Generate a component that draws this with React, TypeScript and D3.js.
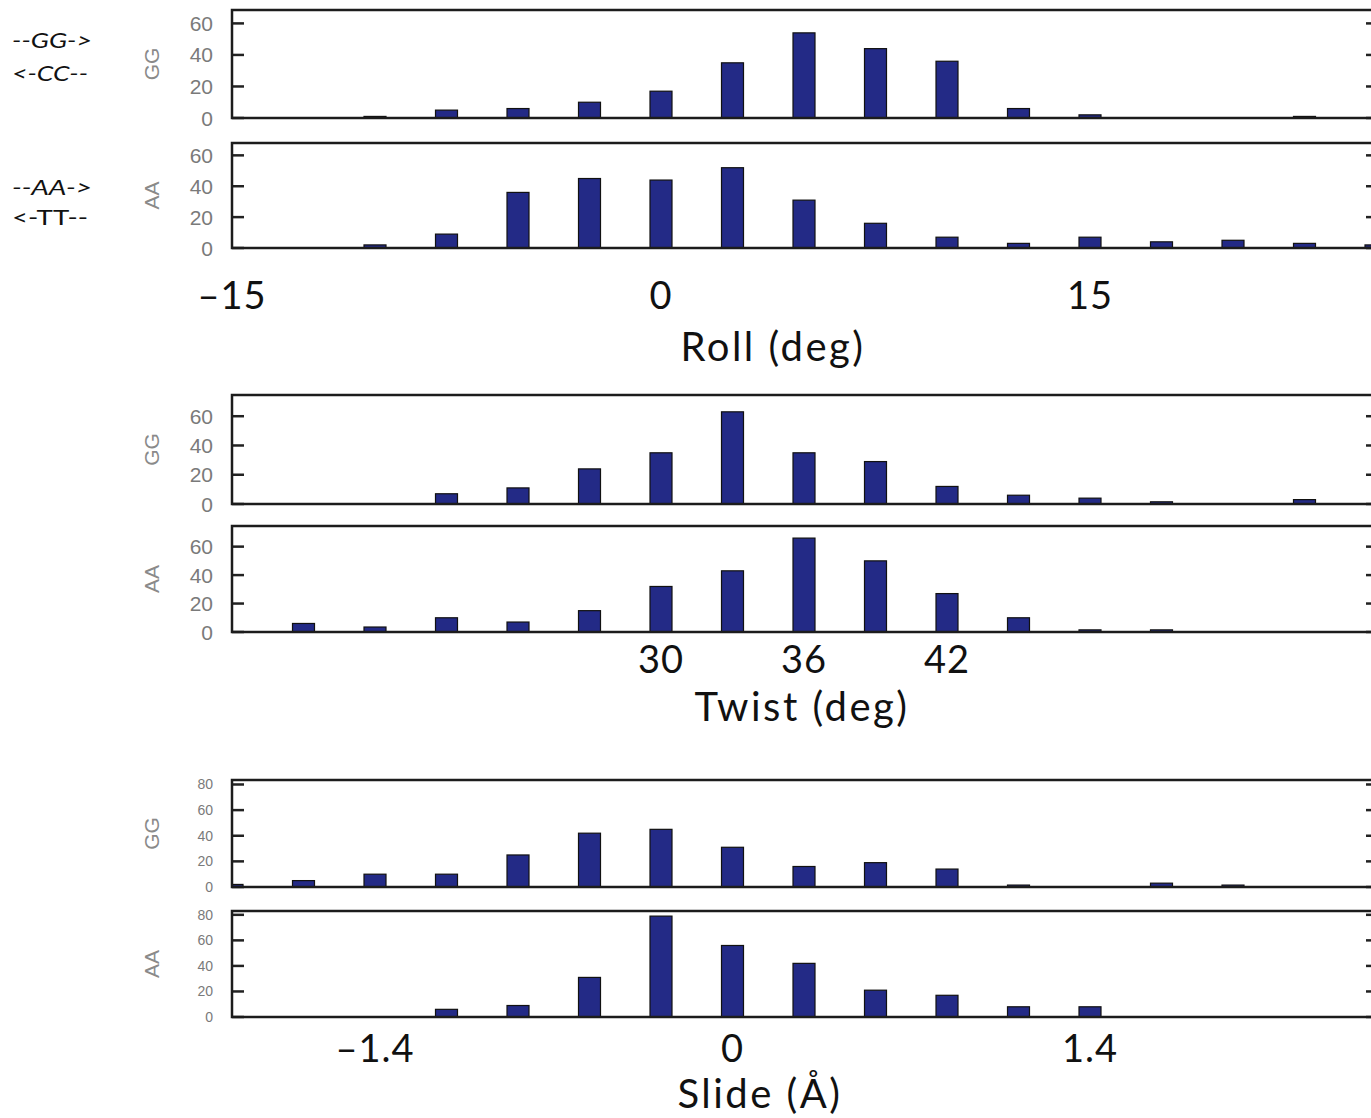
import React from 'react';
import * as d3 from 'd3';

// bin centres and counts
const rollBins = [-10, -7.5, -5, -2.5, 0, 2.5, 5, 7.5, 10, 12.5, 15, 17.5, 20, 22.5, 25];
const rollGG = [1, 5, 6, 10, 17, 35, 54, 44, 36, 6, 2, 0, 0, 1, 0];
const rollAA = [2, 9, 36, 45, 44, 52, 31, 16, 7, 3, 7, 4, 5, 3, 2];

const twistBins = [15, 18, 21, 24, 27, 30, 33, 36, 39, 42, 45, 48, 51, 54, 57];
const twistGG = [0, 0, 7, 11, 24, 35, 63, 35, 29, 12, 6, 4, 1.5, 0, 3];
const twistAA = [6, 3.5, 10, 7, 15, 32, 43, 66, 50, 27, 10, 1.5, 1.5, 0, 0];

const slideBins = [-1.96, -1.68, -1.4, -1.12, -0.84, -0.56, -0.28, 0, 0.28, 0.56, 0.84, 1.12, 1.4, 1.68, 1.96];
const slideGG = [2, 5, 10, 10, 25, 42, 45, 31, 16, 19, 14, 1.5, 0, 3, 1.5];
const slideAA = [0, 0, 0, 6, 9, 31, 79, 56, 42, 21, 17, 8, 8, 0, 0];

const rollTicks = [-15, 0, 15];
const twistTicks = [30, 36, 42];
const slideTicks = [-1.4, 0, 1.4];
const countTicks60 = [0, 20, 40, 60];
const countTicks80 = [0, 20, 40, 60, 80];

const X0 = 232;
const X1 = 1374;
const BAR_W = 22;
const BAR_FILL = '#232a86';
const HAND = "'Comic Sans MS', Lato, sans-serif";
const SANS = "'Liberation Sans', Arial, sans-serif";

const groups = [
  {
    key: 'roll',
    bins: rollBins,
    domain: [-15, 25],
    ticks: rollTicks,
    tickY: 309,
    title: 'Roll (deg)',
    titleX: 773,
    titleY: 361,
    countTicks: countTicks60,
    tickFont: 21,
    panels: [
      { label: 'GG', values: rollGG, top: 10, bottom: 118, yMax: 68.5 },
      { label: 'AA', values: rollAA, top: 143, bottom: 248, yMax: 68 },
    ],
  },
  {
    key: 'twist',
    bins: twistBins,
    domain: [12, 60],
    ticks: twistTicks,
    tickY: 673,
    title: 'Twist (deg)',
    titleX: 802,
    titleY: 721,
    countTicks: countTicks60,
    tickFont: 21,
    panels: [
      { label: 'GG', values: twistGG, top: 395, bottom: 504, yMax: 74.5 },
      { label: 'AA', values: twistAA, top: 526, bottom: 632, yMax: 74.5 },
    ],
  },
  {
    key: 'slide',
    bins: slideBins,
    domain: [-1.96, 2.52],
    ticks: slideTicks,
    tickY: 1062,
    title: 'Slide (Å)',
    titleX: 760,
    titleY: 1108,
    countTicks: countTicks80,
    tickFont: 14,
    panels: [
      { label: 'GG', values: slideGG, top: 780, bottom: 887, yMax: 83.5 },
      { label: 'AA', values: slideAA, top: 911, bottom: 1017, yMax: 83 },
    ],
  },
];

const strandLabels = [
  { text: '--GG->', y: 48, italic: true, len: 80 },
  { text: '<-CC--', y: 81, italic: true, len: 76 },
  { text: '--AA->', y: 195, italic: true, len: 80 },
  { text: '<-TT--', y: 225, italic: false, len: 76 },
];

export default function App() {
  return (
    <svg width={1371} height={1118} style={{ position: 'absolute', left: 0, top: 0, background: '#fff' }}>
      <rect width={1371} height={1118} fill="#fff" />
      {strandLabels.map((s) => (
        <text
          key={s.text}
          x={12}
          y={s.y}
          fontFamily={HAND}
          fontSize={22}
          fontStyle={s.italic ? 'italic' : 'normal'}
          textLength={s.len}
          lengthAdjust="spacingAndGlyphs"
          fill="#111"
        >
          {s.text}
        </text>
      ))}
      {groups.map((g) => {
        const x = d3.scaleLinear().domain(g.domain).range([X0, 1376]);
        return (
          <g key={g.key}>
            {g.panels.map((p, pi) => {
              const y = d3.scaleLinear().domain([0, p.yMax]).range([p.bottom, p.top]);
              const clipId = `clip-${g.key}-${pi}`;
              return (
                <g key={p.label}>
                  <defs>
                    <clipPath id={clipId}>
                      <rect x={X0} y={p.top} width={X1 - X0} height={p.bottom - p.top} />
                    </clipPath>
                  </defs>
                  <g clipPath={`url(#${clipId})`}>
                    {g.bins.map((b, i) => {
                      const v = p.values[i];
                      if (!v) return null;
                      return (
                        <rect
                          key={b}
                          x={x(b) - BAR_W / 2}
                          y={y(v)}
                          width={BAR_W}
                          height={y(0) - y(v)}
                          fill={BAR_FILL}
                          stroke="#111"
                          strokeWidth={1.2}
                        />
                      );
                    })}
                  </g>
                  {g.countTicks.map((t) => (
                    <g key={t}>
                      <line x1={X0} x2={X0 + 12} y1={y(t)} y2={y(t)} stroke="#222" strokeWidth={2.5} />
                      <line x1={X1 - 8} x2={X1} y1={y(t)} y2={y(t)} stroke="#222" strokeWidth={2.5} />
                      <text
                        x={213}
                        y={y(t)}
                        textAnchor="end"
                        dominantBaseline="central"
                        fontFamily={SANS}
                        fontSize={g.tickFont}
                        fill="#7a7a7a"
                      >
                        {t}
                      </text>
                    </g>
                  ))}
                  <rect
                    x={X0}
                    y={p.top}
                    width={X1 - X0}
                    height={p.bottom - p.top}
                    fill="none"
                    stroke="#1c1c1c"
                    strokeWidth={2.5}
                  />
                  <text
                    transform={`translate(151,${(p.top + p.bottom) / 2}) rotate(-90)`}
                    textAnchor="middle"
                    dominantBaseline="central"
                    fontFamily={SANS}
                    fontSize={21}
                    fill="#8a8a8a"
                  >
                    {p.label}
                  </text>
                </g>
              );
            })}
            {g.ticks.map((t) => (
              <text
                key={t}
                x={x(t)}
                y={g.tickY}
                textAnchor="middle"
                fontFamily={HAND}
                fontSize={38}
                letterSpacing={1}
                fill="#111"
              >
                {t < 0 ? `\u2013${Math.abs(t)}` : t}
              </text>
            ))}
            <text
              x={g.titleX}
              y={g.titleY}
              textAnchor="middle"
              fontFamily={HAND}
              fontSize={40}
              letterSpacing={2.5}
              fill="#111"
            >
              {g.title}
            </text>
          </g>
        );
      })}
    </svg>
  );
}
